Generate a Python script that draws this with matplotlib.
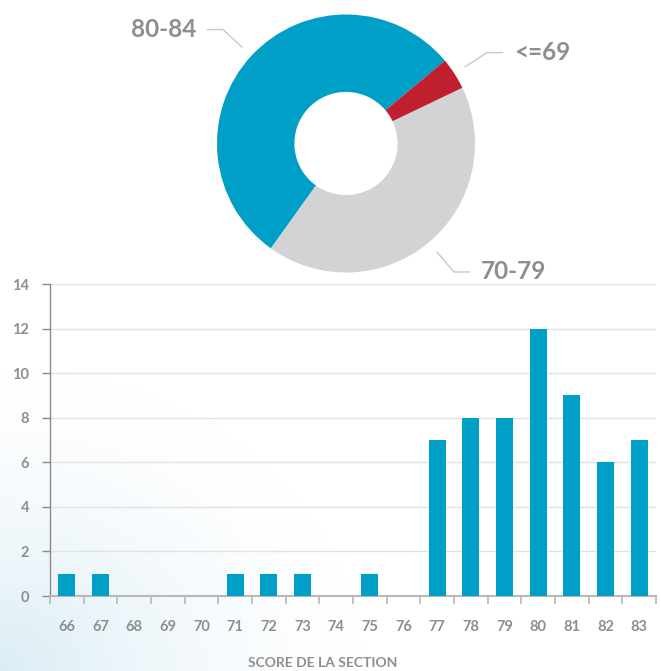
import numpy as np
import matplotlib
matplotlib.use("Agg")
import matplotlib.pyplot as plt

# ── Data ──────────────────────────────────────────────────────────────────────
scores = ["66", "67", "68", "69", "70", "71", "72", "73", "74",
          "75", "76", "77", "78", "79", "80", "81", "82", "83"]
counts = [1, 1, 0, 0, 0, 1, 1, 1, 0, 1, 0, 7, 8, 8, 12, 9, 6, 7]

band_labels = ["80-84", "70-79", "<=69"]
band_shares = [54, 42, 4]   # percent

# ── Style ─────────────────────────────────────────────────────────────────────
BLUE = "#009fc7"
RED = "#c01f2f"
LIGHT = "#d2d3d5"
TXT = "#8e8e8e"
LEADER = "#c8c8c8"
FONT = ["Lato", "DejaVu Sans"]

plt.rcParams["font.family"] = FONT

W, H = 661, 671
fig = plt.figure(figsize=(W / 100, H / 100), dpi=100)
fig.patch.set_facecolor("white")

# soft blue haze in the lower-left corner
bg = fig.add_axes([0, 0, 1, 1], zorder=-10)
yy, xx = np.mgrid[0:1:200j, 0:1:200j]
dist = np.sqrt((xx / 0.55) ** 2 + ((1 - yy) / 0.45) ** 2)
haze = np.clip(1 - dist, 0, 1) ** 1.5
img = np.ones((200, 200, 3))
tint = np.array([0.86, 0.93, 0.96])
img = img * (1 - haze[..., None]) + tint * haze[..., None]
bg.imshow(img, extent=[0, 1, 0, 1], origin="upper", aspect="auto")
bg.set_xlim(0, 1)
bg.set_ylim(0, 1)
bg.axis("off")

# ── Donut ─────────────────────────────────────────────────────────────────────
cx, cy, R = 346, 143.5, 129
pax = fig.add_axes([(cx - R) / W, 1 - (cy + R) / H, 2 * R / W, 2 * R / H])
wedges, _ = pax.pie(band_shares, colors=[BLUE, LIGHT, RED], startangle=40,
                    counterclock=True, radius=1,
                    wedgeprops=dict(width=0.6, edgecolor="none"))
pax.set_xlim(-1, 1)
pax.set_ylim(-1, 1)
pax.set_aspect("equal")

for w, lab in zip(wedges, band_labels):
    ang = np.deg2rad((w.theta1 + w.theta2) / 2)
    x0, y0 = 1.1 * np.cos(ang), 1.1 * np.sin(ang)
    x1, y1 = 1.3 * np.cos(ang), 1.3 * np.sin(ang)
    side = 1 if np.cos(ang) > 0 else -1
    x2 = x1 + side * 0.12
    pax.plot([x0, x1, x2], [y0, y1, y1], color=LEADER, lw=1, clip_on=False)
    pax.text(x2 + side * 0.09, y1, lab, ha="left" if side > 0 else "right",
             va="center", fontsize=17.5, fontweight="bold", color=TXT,
             clip_on=False)

# ── Histogram ─────────────────────────────────────────────────────────────────
ax = fig.add_axes([50 / W, 1 - 596 / H, (656 - 50) / W, 312 / H])
ax.patch.set_alpha(0)
x = np.arange(len(scores))
ax.bar(x, counts, width=0.5, color=BLUE, zorder=3)

ax.set_xlim(-0.5, len(scores) - 0.5)
ax.set_ylim(0, 14)
ax.set_yticks(range(0, 15, 2))
ax.set_xticks(x)
ax.set_xticklabels(scores)
ax.set_xticks(np.arange(-0.5, len(scores)), minor=True)

ax.grid(axis="y", color="#e2e2e2", lw=1, zorder=0)
for s in ["top", "right"]:
    ax.spines[s].set_visible(False)
ax.spines["left"].set_color("#8a8a8a")
ax.spines["left"].set_linewidth(1)
ax.spines["bottom"].set_color("#b8b8b8")
ax.spines["bottom"].set_linewidth(1.5)

ax.tick_params(axis="y", length=6, width=1, color="#8a8a8a", pad=9,
               labelsize=10.5, labelcolor=TXT)
ax.tick_params(axis="x", which="major", length=0, pad=17,
               labelsize=10.5, labelcolor=TXT)
ax.tick_params(axis="x", which="minor", length=6, width=1.2, color="#b8b8b8")
for t in ax.get_xticklabels() + ax.get_yticklabels():
    t.set_fontweight("bold")

fig.text(323 / W, 1 - 663 / H, "SCORE DE LA SECTION", ha="center",
         va="center", fontsize=10, fontweight="bold", color=TXT)

fig.savefig("out.png", dpi=100)
